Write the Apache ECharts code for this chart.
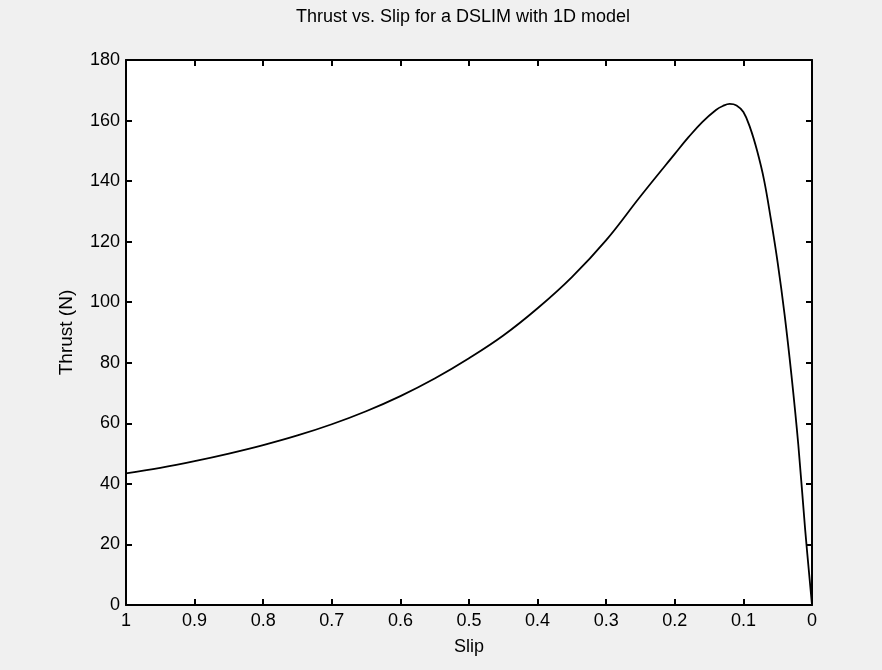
<!DOCTYPE html>
<html>
<head>
<meta charset="utf-8">
<script src="https://cdn.jsdelivr.net/npm/echarts@6/dist/echarts.min.js"></script>
<style>html,body{margin:0;padding:0;background:#f0f0f0;}#c{width:882px;height:670px;}</style>
</head>
<body>
<div id="c"></div>
<script>
const titleText = 'Thrust vs. Slip for a DSLIM with 1D model';
const xLabel = 'Slip';
const yLabel = 'Thrust (N)';
const slip = [1.0, 0.95, 0.9, 0.85, 0.8, 0.75, 0.7, 0.65, 0.6, 0.55, 0.5, 0.45, 0.4, 0.35, 0.3, 0.25, 0.2, 0.18, 0.16, 0.14, 0.13, 0.12, 0.11, 0.1, 0.09, 0.08, 0.07, 0.06, 0.05, 0.04, 0.03, 0.02, 0.01, 0];
const thrust = [43.5, 45.3, 47.5, 50, 52.8, 56, 59.7, 64, 69, 74.8, 81.5, 89, 98, 108.3, 120.5, 135, 149, 154.5, 159.5, 163.5, 164.8, 165.5, 165, 162.8, 157.5, 150, 140.5, 127.5, 113, 96, 76, 53, 25, 0];
const xMin = 0, xMax = 1, xStep = 0.1;
const yMin = 0, yMax = 180, yStep = 20;

const font = 'Liberation Sans, Arial, sans-serif';
const chart = echarts.init(document.getElementById('c'));
const axisLine = {show: true, onZero: false, lineStyle: {color: '#000', width: 2}};
const tick = {show: true, inside: true, length: 6, lineStyle: {color: '#000', width: 2}};
chart.setOption({
  animation: false,
  backgroundColor: '#f0f0f0',
  title: {text: titleText, left: 458, top: 3, textAlign: 'center',
    textStyle: {fontFamily: font, fontSize: 18, fontWeight: 'normal', color: '#000'}},
  grid: {left: 126, right: 70, top: 60, bottom: 65, show: true, backgroundColor: '#fff', borderWidth: 0},
  xAxis: [
    {type: 'value', inverse: true, min: xMin, max: xMax, interval: xStep, position: 'bottom',
      name: xLabel, nameLocation: 'middle', nameGap: 33,
      nameTextStyle: {fontFamily: font, fontSize: 18, color: '#000'},
      axisLine: axisLine, axisTick: tick, splitLine: {show: false},
      axisLabel: {fontFamily: font, fontSize: 18, color: '#000', margin: 7}},
    {type: 'value', inverse: true, min: xMin, max: xMax, interval: xStep, position: 'top',
      axisLine: axisLine, axisTick: tick, splitLine: {show: false}, axisLabel: {show: false}}
  ],
  yAxis: [
    {type: 'value', min: yMin, max: yMax, interval: yStep, position: 'left',
      name: yLabel, nameLocation: 'middle', nameGap: 50,
      nameTextStyle: {fontFamily: font, fontSize: 19, color: '#000'},
      axisLine: axisLine, axisTick: tick, splitLine: {show: false},
      axisLabel: {fontFamily: font, fontSize: 18, color: '#000', margin: 6}},
    {type: 'value', min: yMin, max: yMax, interval: yStep, position: 'right',
      axisLine: axisLine, axisTick: tick, splitLine: {show: false}, axisLabel: {show: false}}
  ],
  series: [{
    type: 'line', xAxisIndex: 0, yAxisIndex: 0, smooth: 0.4, showSymbol: false,
    lineStyle: {color: '#000', width: 1.8},
    data: slip.map((s, i) => [s, thrust[i]])
  }]
});
</script>
</body>
</html>
